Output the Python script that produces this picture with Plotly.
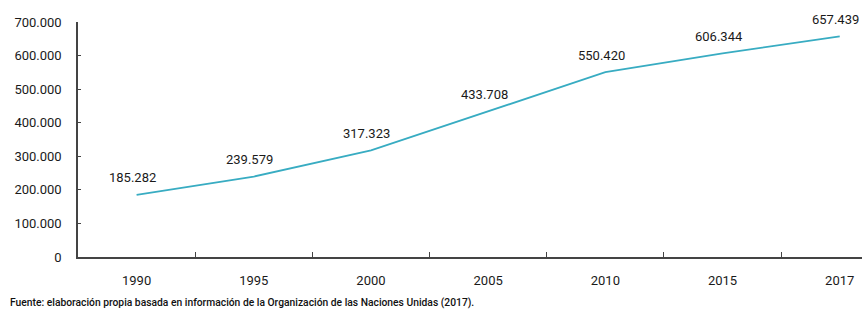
import plotly.graph_objects as go

years = ["1990", "1995", "2000", "2005", "2010", "2015", "2017"]
values = [185282, 239579, 317323, 433708, 550420, 606344, 657439]
y_ticks = [0, 100000, 200000, 300000, 400000, 500000, 600000, 700000]
source = "Fuente: elaboración propia basada en información de la Organización de las Naciones Unidas (2017)."

FONT = "Roboto"
fig = go.Figure()
fig.add_trace(go.Scatter(
    x=years, y=values, mode="lines",
    line=dict(color="#38ACC2", width=1.8),
    hoverinfo="skip", showlegend=False,
))

for i, v in enumerate(values):
    fig.add_annotation(
        x=i, y=v, xref="x", yref="y",
        text=f"{v:,}".replace(",", "."),
        showarrow=False, xshift=-4, yshift=17,
        font=dict(family=FONT, size=13, color="#1a1a1a"),
    )

fig.add_annotation(
    xref="paper", yref="paper", x=(8 - 78) / 784, y=(257 - 302) / 235,
    xanchor="left", yanchor="middle", showarrow=False,
    text=source, font=dict(family=FONT, size=10.3, color="#111", weight=500),
)

fig.update_layout(
    width=862, height=314,
    margin=dict(l=78, r=0, t=22, b=57),
    paper_bgcolor="white", plot_bgcolor="white",
    separators=",.",
    font=dict(family=FONT, size=13, color="#1a1a1a"),
    xaxis=dict(
        type="category", range=[-0.5, 6.19], automargin=False,
        showline=True, linecolor="#444", linewidth=1.5,
        ticks="inside", tickson="boundaries", ticklen=5, tickcolor="#444", tickwidth=1.2,
        showgrid=False, zeroline=False, ticklabelstandoff=11,
    ),
    yaxis=dict(
        range=[0, 700000], tickvals=y_ticks, tickformat=",d", automargin=False,
        showline=True, linecolor="#444", linewidth=1.5,
        ticks="inside", ticklen=3, tickcolor="#444",
        showgrid=False, zeroline=False, ticklabelstandoff=12,
    ),
)

fig.write_html("out.html", config={"displayModeBar": False},
               post_script="document.body.style.margin='0';")
